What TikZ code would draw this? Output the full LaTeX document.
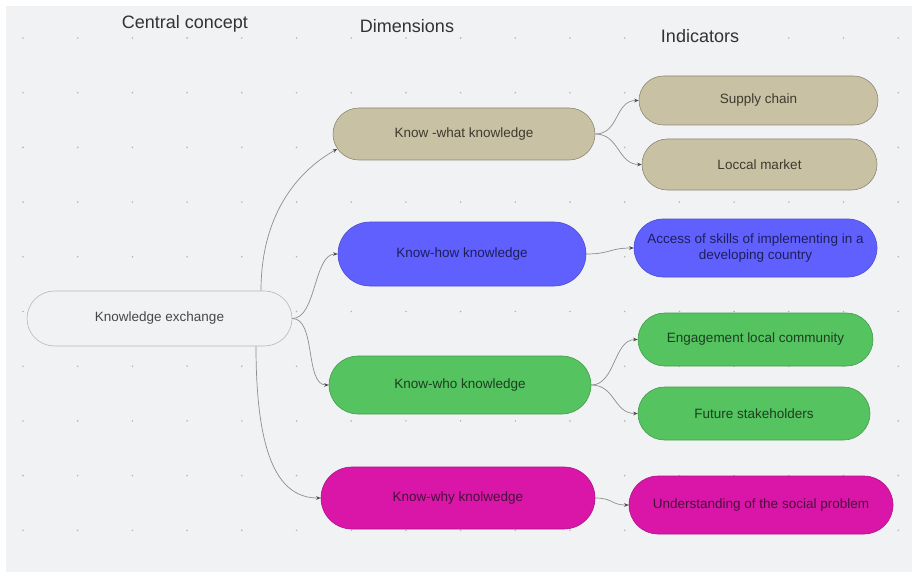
\documentclass[tikz,border=0pt]{standalone}
\usepackage{fontspec}
\setmainfont{Liberation Sans}
\usetikzlibrary{arrows.meta,shapes.misc}

\definecolor{canvasbg}{HTML}{F1F2F4}
\definecolor{griddot}{HTML}{B4B6BA}
\definecolor{edgegrey}{HTML}{8E8E8E}
\definecolor{tipgrey}{HTML}{4A4A4A}
\definecolor{tanfill}{HTML}{C9C1A3}
\definecolor{tantext}{HTML}{3E3A2F}
\definecolor{bluefill}{HTML}{6060FF}
\definecolor{bluetext}{HTML}{1E1E5C}
\definecolor{greenfill}{HTML}{55C35F}
\definecolor{greentext}{HTML}{1C3F20}
\definecolor{magfill}{HTML}{D916A8}
\definecolor{magtext}{HTML}{4A0E3C}
\definecolor{headtext}{HTML}{333333}

\tikzset{
  pill/.style={rounded rectangle, inner sep=0pt, draw=black!30, line width=0.6pt,
    font=\fontsize{13.5}{16}\selectfont, align=center},
  centralbox/.style={pill, fill=canvasbg, draw=black!28, text=headtext!90},
  tanbox/.style={pill, fill=tanfill, draw=tanfill!70!black, text=tantext},
  bluebox/.style={pill, fill=bluefill, draw=bluefill!80!black, text=bluetext},
  greenbox/.style={pill, fill=greenfill, draw=greenfill!80!black, text=greentext},
  magbox/.style={pill, fill=magfill, draw=magfill!80!black, text=magtext},
  heading/.style={font=\fontsize{18}{21}\selectfont, text=headtext},
  conn/.style={draw=edgegrey, line width=0.7pt,
    -{Stealth[length=4.5pt,width=3.6pt,color=tipgrey]}},
}

\begin{document}
\begin{tikzpicture}[x=1pt,y=-1pt]
\useasboundingbox (0,0) rectangle (912,572);
% canvas and dotted grid
\fill[canvasbg] (6,6) rectangle (912,572);
\foreach \i in {0,...,16}
  \foreach \j in {0,...,9}
    \fill[griddot] ({23+\i*54.7},{38+\j*54.7}) circle (0.9);

% column headings
\node[heading] (hcentral) at (185,24) {Central concept};
\node[heading] (hdims) at (407,26) {Dimensions};
\node[heading] (hinds) at (700,36) {Indicators};

% central concept
\node[centralbox, minimum width=265, minimum height=55] (ke) at (159.5,318.5) {Knowledge exchange};

% dimensions
\node[tanbox, minimum width=262, minimum height=52] (what) at (464,134) {Know -what knowledge};
\node[bluebox, minimum width=248, minimum height=64] (how) at (462,254) {Know-how knowledge};
\node[greenbox, minimum width=262, minimum height=58] (who) at (460,385) {Know-who knowledge};
\node[magbox, minimum width=274, minimum height=62] (why) at (458,498) {Know-why knolwedge};

% indicators
\node[tanbox, minimum width=239, minimum height=49] (supply) at (758.5,100.5) {Supply chain};
\node[tanbox, minimum width=235, minimum height=51] (local) at (759.5,164.5) {Loccal market};
\node[bluebox, minimum width=243, minimum height=58] (access) at (755.5,248)
  {Access of skills of implementing in a\\developing country};
\node[greenbox, minimum width=235, minimum height=53] (engage) at (755.5,339.5) {Engagement local community};
\node[greenbox, minimum width=232, minimum height=53] (future) at (754,413.5) {Future stakeholders};
\node[magbox, minimum width=264, minimum height=58] (underst) at (761,505) {Understanding of the social problem};

% attachment points
\coordinate (ke-top) at ([xshift=101.5pt]ke.north);
\coordinate (ke-bot) at ([xshift=96.5pt]ke.south);
\coordinate (what-in) at ([xshift=4.5pt,yshift=-15pt]what.west);

% connectors from the central concept
\draw[conn] (ke-top) .. controls +(0,-80) and +(-36,20) .. (what-in);
\draw[conn] (ke.east) .. controls +(24,0) and +(-24,0) .. (how.west);
\draw[conn] (ke.east) .. controls +(24,0) and +(-24,0) .. (who.west);
\draw[conn] (ke-bot) .. controls +(0,115) and +(-40,0) .. (why.west);

% connectors to the indicators
\draw[conn] (what.east) .. controls +(24,0) and +(-24,0) .. (supply.west);
\draw[conn] (what.east) .. controls +(24,0) and +(-24,0) .. (local.west);
\draw[conn] (how.east) .. controls +(24,0) and +(-24,0) .. (access.west);
\draw[conn] (who.east) .. controls +(24,0) and +(-24,0) .. (engage.west);
\draw[conn] (who.east) .. controls +(24,0) and +(-24,0) .. (future.west);
\draw[conn] (why.east) .. controls +(18,0) and +(-18,0) .. (underst.west);
\end{tikzpicture}
\end{document}
